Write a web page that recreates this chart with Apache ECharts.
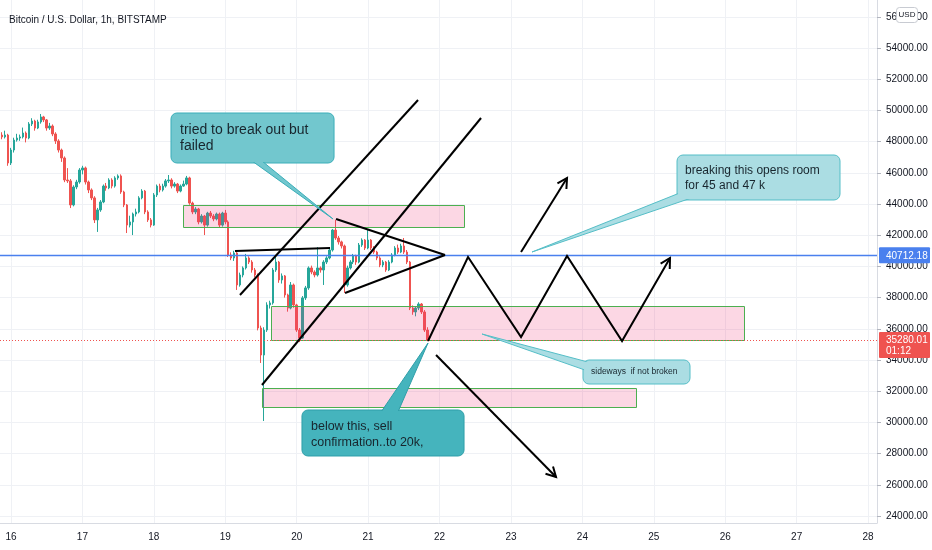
<!DOCTYPE html>
<html><head><meta charset="utf-8">
<script src="https://cdn.jsdelivr.net/npm/echarts@6/dist/echarts.min.js"></script>
<style>html,body{margin:0;padding:0;background:#fff}#c{width:932px;height:550px}</style>
</head><body><div id="c"></div>
<script>
// ---------- data ----------
const chartTitle = 'Bitcoin / U.S. Dollar, 1h, BITSTAMP';
const currencyLabel = 'USD';
const dayTicks = [16,17,18,19,20,21,22,23,24,25,26,27,28];
const priceTicks = [24000,26000,28000,30000,32000,34000,36000,38000,40000,42000,44000,46000,48000,50000,52000,54000,56000];
const firstCandleDay = 15.875;   // first hourly candle (day of month)
const opens = [48420,48300,48420,46630,47460,48100,48230,48300,48550,48230,49130,49320,48870,49260,49580,49390,48870,49000,48490,48040,
47460,46950,45540,45480,43940,45090,45410,46180,46310,45410,44900,44390,42980,43620,44130,45150,45030,45540,45150,45670,
45800,44770,43940,42650,42850,43360,43490,44390,44830,43490,42980,42650,44580,45150,44900,45150,45480,45540,45150,45280,
44830,45150,45280,45670,44060,43490,43680,42850,43230,42650,43420,43230,43040,43360,42650,43420,42850,40730,40540,40860,
38810,39450,39900,40540,40280,39770,39450,36050,34320,35920,37530,37660,39770,40280,39130,39390,38170,37330,38810,37530,
35920,35410,37980,38620,39900,39640,39450,39900,39770,40280,40540,41050,42330,41820,41570,41310,38810,39900,40280,40670,
40280,41370,41690,41180,41690,41180,40920,40540,40090,40280,39770,40280,40730,41180,40920,41310,40920,40280,37330,37080,
37330,37590,37080,35920];
const closes = [48300,48420,46630,47460,48100,48230,48300,48550,48230,49130,49320,48870,49260,49580,49390,48870,49000,48490,48040,47460,
46950,45540,45480,43940,45090,45410,46180,46310,45410,44900,44390,42980,43620,44130,45150,45030,45540,45150,45670,45800,
44770,43940,42650,42850,43360,43490,44390,44830,43490,42980,42650,44580,45150,44900,45150,45480,45540,45150,45280,44830,
45150,45280,45670,44060,43490,43680,42850,43230,42650,43420,43230,43040,43360,42650,43420,42850,40730,40540,40860,38810,
39450,39900,40540,40280,39770,39450,36050,34320,35920,37530,37660,39770,40280,39130,39390,38170,37330,38810,37530,35920,
35410,37980,38620,39900,39640,39450,39900,39770,40280,40540,41050,42330,41820,41570,41310,38810,39900,40280,40670,40280,
41370,41690,41180,41690,41180,40920,40540,40090,40280,39770,40280,40730,41180,40920,41310,40920,40280,37330,37080,37330,
37590,37080,35920,35280];
const highs = [48600,48700,48500,47600,48250,48500,48450,48900,48650,49250,49500,49400,49400,49770,49650,49450,49200,49100,48600,48150,
47550,47050,46300,45600,45200,45550,46300,46450,46400,45500,45000,44500,43750,44250,45250,45350,45650,45650,45780,45900,
45900,44850,44000,43250,43450,43700,44500,44950,44900,43600,43100,44700,45250,45300,45300,45600,45860,45650,45400,45350,
45250,45500,45800,45750,44150,43800,43750,43350,43300,43500,43550,43350,43450,43450,43500,43620,42950,40900,41000,40950,
39600,40000,40800,40650,40400,39900,39550,36200,36100,37700,37800,39900,40700,40350,39550,39450,38250,39000,38900,37600,
36050,38100,38750,40000,40050,39750,41240,40000,40400,40650,41200,42400,42980,41950,41650,41400,40050,40400,40800,40750,
41500,41800,41750,42330,41750,41300,41000,40650,40400,40350,40400,40850,41300,41400,41450,41820,41050,40350,37500,37450,
37700,37650,37200,36100];
const lows = [48150,48200,46450,46500,47300,48000,48050,48200,47950,48150,49000,48700,48800,49150,49250,48700,48750,48350,47850,47300,
46700,45400,45350,43740,43850,44950,45300,45900,45250,44700,44250,42780,42210,43500,44050,44850,44950,45000,45050,45550,
44650,43800,42140,42500,42010,43200,43400,44300,43350,42850,42500,42600,44450,44750,44800,45050,45350,45000,45050,44700,
44750,45100,45200,43950,43350,43350,42700,42750,42010,42550,43100,42900,42950,42500,42550,42700,40600,40400,40350,38490,
38700,39300,39800,40150,39600,39300,35900,33810,30090,35800,37300,37550,39650,38950,38900,38000,37100,37250,37350,35800,
35150,35350,37850,38500,39500,39300,39350,39600,38810,40150,40450,40950,41700,41400,41150,38300,38700,39800,40150,40100,
40200,41250,41050,41100,41050,40800,40400,39950,39950,39650,39700,40200,40650,40800,40850,40800,40150,37200,36900,36800,
37200,36950,35800,35200];
const lastPrice = 35280.01;
const lastPriceTimer = '01:12';
const resistancePrice = 40712.18;

// drawings, in [day, price]
const zones = [
  [18.41, 43940, 22.34, 42530],
  [19.64, 37460, 26.26, 35250],
  [19.51, 32210, 24.75, 30990]
];
const trendLines = [
  [19.206, 38167, 21.699, 50667],
  [19.514, 32398, 22.581, 49513],
  [19.136, 40988, 20.467, 41180],
  [20.551, 43039, 22.077, 40731],
  [20.677, 38296, 22.077, 40731]
];
const zigzagPath = [[21.839,35219],[22.399,40603],[23.141,35475],[23.785,40667],[24.555,35219],[25.227,40539]];
const upArrowPath = [[23.141,40924],[23.785,45667]];
const downArrowPath = [[21.951,34321],[23.631,26501]];
const arrowPaths = [zigzagPath, upArrowPath, downArrowPath];

const calloutTexts = [
  ['tried to break out but', 'failed'],
  ['breaking this opens room', 'for 45 and 47 k'],
  ['sideways  if not broken'],
  ['below this, sell', 'confirmation..to 20k,']
];
const calloutBoxes = [
  [18.240, 49833, 20.523, 46628],
  [25.325, 47141, 27.607, 44257],
  [24.009, 34000, 25.507, 32462],
  [20.074, 30796, 22.343, 27847]
];
const calloutTips = [[20.509,43039],[23.295,40924],[22.595,35667],[21.839,35091]];
const calloutBases = [
  [[19.304,46628],[19.486,46628]],
  [[25.325,44705],[25.437,44257]],
  [[24.009,33936],[24.009,33295]],
  [[21.139,30796],[21.447,30796]]
];

// ---------- styles ----------
const UP = '#26a69a', DOWN = '#ef5350';
const FONT = '"Liberation Sans", Arial, sans-serif';
const calloutStyle = [
  {fill:'#72c7ce', stroke:'#3aaeb9', size:14, lh:16, pad:9},
  {fill:'#abdde3', stroke:'#55bec7', size:12, lh:15, pad:8},
  {fill:'#abdde3', stroke:'#55bec7', size:8.5, lh:10, pad:8},
  {fill:'#45b4bd', stroke:'#2f9fa9', size:12.5, lh:16, pad:9}
];
const hlineStyle = [
  {color:'#4a80ee', width:1.5, dash:null},
  {color:'#ef5350', width:1, dash:[1,2]}
];
const tagStyle = [{bg:'#4a80ee', top:-8, h:16}, {bg:'#ef5350', top:-8, h:26}];

const candleData = closes.map((c, i) => [firstCandleDay + i / 24, opens[i], c, lows[i], highs[i]]);

function boxPx(api, b) {
  const a = api.coord([b[0], b[1]]), c = api.coord([b[2], b[3]]);
  return {x: Math.min(a[0], c[0]), y: Math.min(a[1], c[1]), width: Math.abs(c[0] - a[0]), height: Math.abs(c[1] - a[1])};
}

const chart = echarts.init(document.getElementById('c'));
chart.setOption({
  animation: false,
  backgroundColor: '#ffffff',
  title: {text: chartTitle, left: 4, top: 10, textStyle: {fontSize: 10, fontWeight: 'normal', color: '#131722', fontFamily: FONT}},
  graphic: [{
    type: 'group', right: 14, top: 7, z: 100,
    children: [
      {type: 'rect', z: 100, shape: {x: 0, y: 0, width: 21, height: 15, r: 3}, style: {fill: '#fff', stroke: '#c8cbd2', lineWidth: 1}},
      {type: 'text', z: 101, x: 10.5, y: 7.5, style: {text: currencyLabel, fill: '#131722', font: '8px ' + FONT, align: 'center', verticalAlign: 'middle'}}
    ]
  }],
  grid: {left: 0, right: 55, top: 0, bottom: 27, containLabel: false},
  xAxis: {
    type: 'value', min: 15.846, max: 28.125,
    axisLine: {show: true, lineStyle: {color: '#d8dbe2'}},
    axisTick: {show: false, customValues: dayTicks},
    axisLabel: {customValues: dayTicks, formatter: v => String(v), color: '#131722', fontSize: 10, fontFamily: FONT, margin: 9},
    splitLine: {show: true, lineStyle: {color: '#eff1f5', width: 1}}
  },
  yAxis: {
    type: 'value', position: 'right', min: 23552, max: 57077,
    axisLine: {show: true, lineStyle: {color: '#d8dbe2'}},
    axisTick: {show: true, length: 4, customValues: priceTicks, lineStyle: {color: '#b2b5be'}},
    axisLabel: {customValues: priceTicks, formatter: v => v.toFixed(2), color: '#131722', fontSize: 10, fontFamily: FONT, margin: 9},
    splitLine: {show: true, lineStyle: {color: '#eff1f5', width: 1}}
  },
  series: [
    {
      type: 'candlestick', data: candleData, encode: {x: 0, y: [1, 2, 3, 4]},
      barWidth: 2, z: 2,
      itemStyle: {color: UP, color0: DOWN, borderColor: UP, borderColor0: DOWN, borderWidth: 1}
    },
    {
      type: 'custom', z: 3, data: zones, encode: {x: [0, 2], y: [1, 3]},
      renderItem: (params, api) => {
        const r = boxPx(api, [api.value(0), api.value(1), api.value(2), api.value(3)]);
        return {type: 'rect', shape: {x: Math.round(r.x) + 0.5, y: Math.round(r.y) + 0.5, width: Math.round(r.width), height: Math.round(r.height)},
          style: {fill: 'rgba(242,54,119,0.2)', stroke: '#4caf50', lineWidth: 1}};
      }
    },
    {
      type: 'custom', z: 4, data: [[dayTicks[0], resistancePrice], [dayTicks[0], lastPrice]],
      renderItem: (params, api) => {
        const cs = params.coordSys; const y = Math.round(api.coord([api.value(0), api.value(1)])[1]) + 0.5;
        const st = hlineStyle[params.dataIndex];
        return {type: 'line', shape: {x1: cs.x, y1: y, x2: cs.x + cs.width, y2: y}, style: {stroke: st.color, lineWidth: st.width, lineDash: st.dash}};
      }
    },
    {
      type: 'custom', z: 5, data: trendLines, encode: {x: [0, 2], y: [1, 3]},
      renderItem: (params, api) => {
        const a = api.coord([api.value(0), api.value(1)]), b = api.coord([api.value(2), api.value(3)]);
        return {type: 'line', shape: {x1: a[0], y1: a[1], x2: b[0], y2: b[1]}, style: {stroke: '#000', lineWidth: 2}};
      }
    },
    {
      type: 'custom', z: 5, data: arrowPaths.map(p => p[0]),
      renderItem: (params, api) => {
        const pts = arrowPaths[params.dataIndex].map(p => api.coord(p));
        const e = pts[pts.length - 1], s = pts[pts.length - 2];
        const ang = Math.atan2(e[1] - s[1], e[0] - s[0]);
        const L = 11, th = 0.5;
        const h1 = [e[0] - L * Math.cos(ang - th), e[1] - L * Math.sin(ang - th)];
        const h2 = [e[0] - L * Math.cos(ang + th), e[1] - L * Math.sin(ang + th)];
        return {type: 'group', children: [
          {type: 'polyline', shape: {points: pts}, style: {stroke: '#000', lineWidth: 2, fill: null}},
          {type: 'polyline', shape: {points: [h1, e, h2]}, style: {stroke: '#000', lineWidth: 2, fill: null}}
        ]};
      }
    },
    {
      type: 'custom', z: 6, data: calloutTips,
      renderItem: (params, api) => {
        const i = params.dataIndex; const st = calloutStyle[i];
        const r = boxPx(api, calloutBoxes[i]);
        const cx = r.x + r.width / 2, cy = r.y + r.height / 2;
        const tip = api.coord(calloutTips[i]);
        const bases = calloutBases[i].map(pt => {
          const c = api.coord(pt); const dx = cx - c[0], dy = cy - c[1]; const d = Math.hypot(dx, dy) || 1;
          return [c[0] + dx / d * 5, c[1] + dy / d * 5];
        });
        const lines = calloutTexts[i];
        const textTop = lines.length > 1 ? r.y + st.pad : r.y + r.height / 2 - st.lh / 2;
        return {type: 'group', children: [
          {type: 'rect', shape: {x: r.x, y: r.y, width: r.width, height: r.height, r: 6}, style: {fill: st.fill, stroke: st.stroke, lineWidth: 1}},
          {type: 'polygon', shape: {points: [bases[0], tip, bases[1]]}, style: {fill: st.fill, stroke: st.stroke, lineWidth: 1}},
          {type: 'rect', shape: {x: r.x + 1, y: r.y + 1, width: r.width - 2, height: r.height - 2, r: 5}, style: {fill: st.fill}},
          {type: 'text', x: r.x + st.pad, y: textTop, style: {text: lines.join('\n'), fill: '#18262e', font: st.size + 'px ' + FONT, lineHeight: st.lh, verticalAlign: 'top'}}
        ]};
      }
    },
    {
      type: 'custom', z: 7, clip: false, data: [[dayTicks[0], resistancePrice], [dayTicks[0], lastPrice]],
      renderItem: (params, api) => {
        const i = params.dataIndex; const cs = params.coordSys; const st = tagStyle[i];
        const y = api.coord([api.value(0), api.value(1)])[1];
        const x = cs.x + cs.width + 2;
        const txt = i === 0 ? [resistancePrice.toFixed(2)] : [lastPrice.toFixed(2), lastPriceTimer];
        return {type: 'group', children: [
          {type: 'rect', shape: {x: x, y: y + st.top, width: 51, height: st.h, r: 1}, style: {fill: st.bg}},
          {type: 'text', x: x + 7, y: y + st.top + 3, style: {text: txt.join('\n'), fill: '#fff', font: '10px ' + FONT, lineHeight: 11, verticalAlign: 'top'}}
        ]};
      }
    }
  ]
});
</script></body></html>
